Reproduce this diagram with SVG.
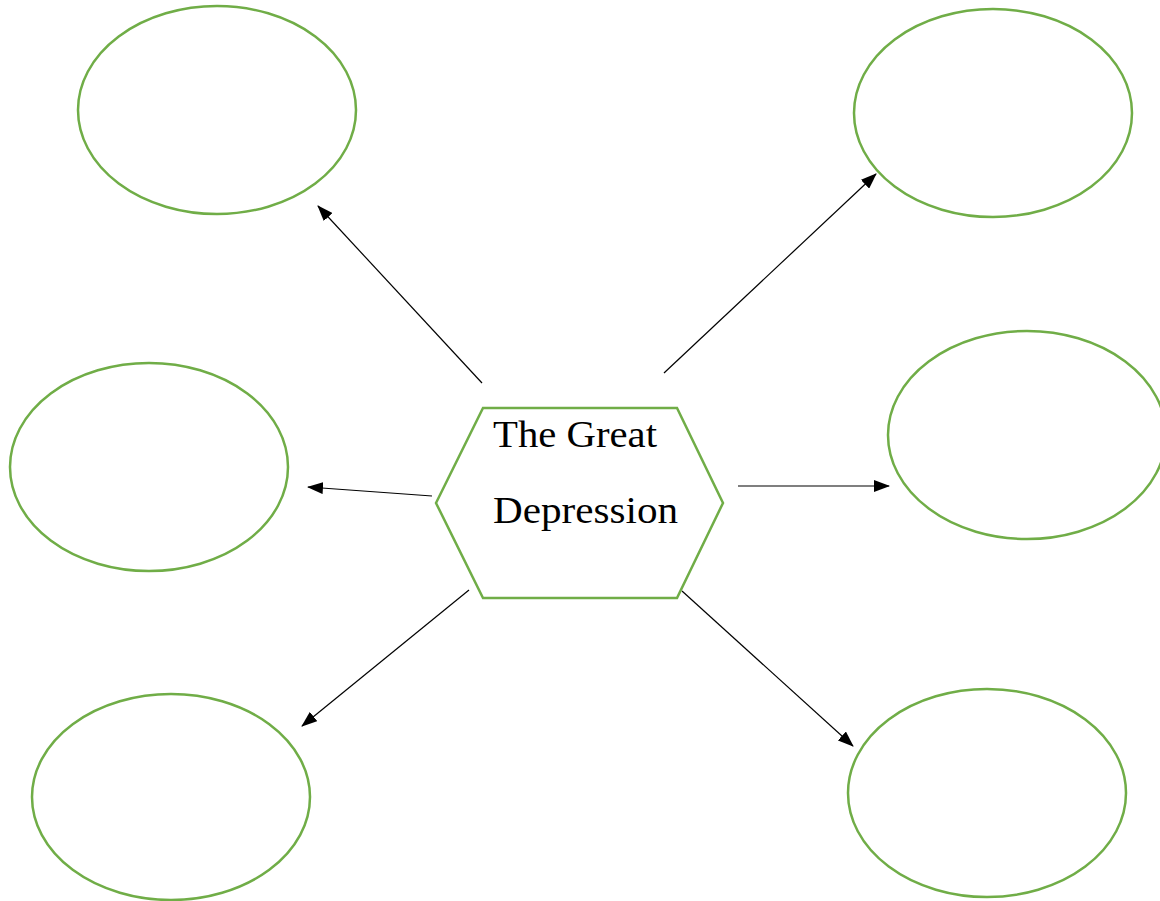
<svg xmlns="http://www.w3.org/2000/svg" width="1160" height="901" viewBox="0 0 1160 901">
<style>
.bubble{fill:none;stroke:#70AD47;stroke-width:2.5}
.hex{fill:#fff;stroke:#70AD47;stroke-width:2.5}
.conn{stroke:#000;stroke-width:1.2;fill:none;marker-end:url(#ah)}
.lbl{font-family:"Liberation Serif","DejaVu Serif",serif;font-size:37px;fill:#000}
</style>
<defs>
<marker id="ah" markerWidth="16" markerHeight="12" refX="15" refY="6" orient="auto" markerUnits="userSpaceOnUse">
<path d="M0,0 L16,6 L0,12 Z" fill="#000"/>
</marker>
</defs>
<rect width="1160" height="901" fill="#fff"/>
<g id="connectors">
<line class="conn" x1="482" y1="383" x2="318" y2="206"/>
<line class="conn" x1="664" y1="373" x2="876" y2="174"/>
<line class="conn" x1="432" y1="496" x2="308" y2="487"/>
<line class="conn" x1="738" y1="486" x2="889" y2="486"/>
<line class="conn" x1="469" y1="590" x2="302" y2="726"/>
<line class="conn" x1="682" y1="591" x2="853" y2="746"/>
</g>
<g id="center">
<polygon class="hex" points="436,503 483,408 677,408 723,503 677,598 483,598"/>
<text class="lbl" x="493" y="447" textLength="164" lengthAdjust="spacingAndGlyphs">The Great</text>
<text class="lbl" x="493" y="523" textLength="185" lengthAdjust="spacingAndGlyphs">Depression</text>
</g>
<g id="node-top-left"><ellipse class="bubble" cx="217" cy="110" rx="139" ry="104"/></g>
<g id="node-top-right"><ellipse class="bubble" cx="993" cy="113" rx="139" ry="104"/></g>
<g id="node-mid-left"><ellipse class="bubble" cx="149" cy="467" rx="139" ry="104"/></g>
<g id="node-mid-right"><ellipse class="bubble" cx="1027" cy="435" rx="139" ry="104"/></g>
<g id="node-bottom-left"><ellipse class="bubble" cx="171" cy="797" rx="139" ry="103"/></g>
<g id="node-bottom-right"><ellipse class="bubble" cx="987" cy="793" rx="139" ry="104"/></g>
</svg>
